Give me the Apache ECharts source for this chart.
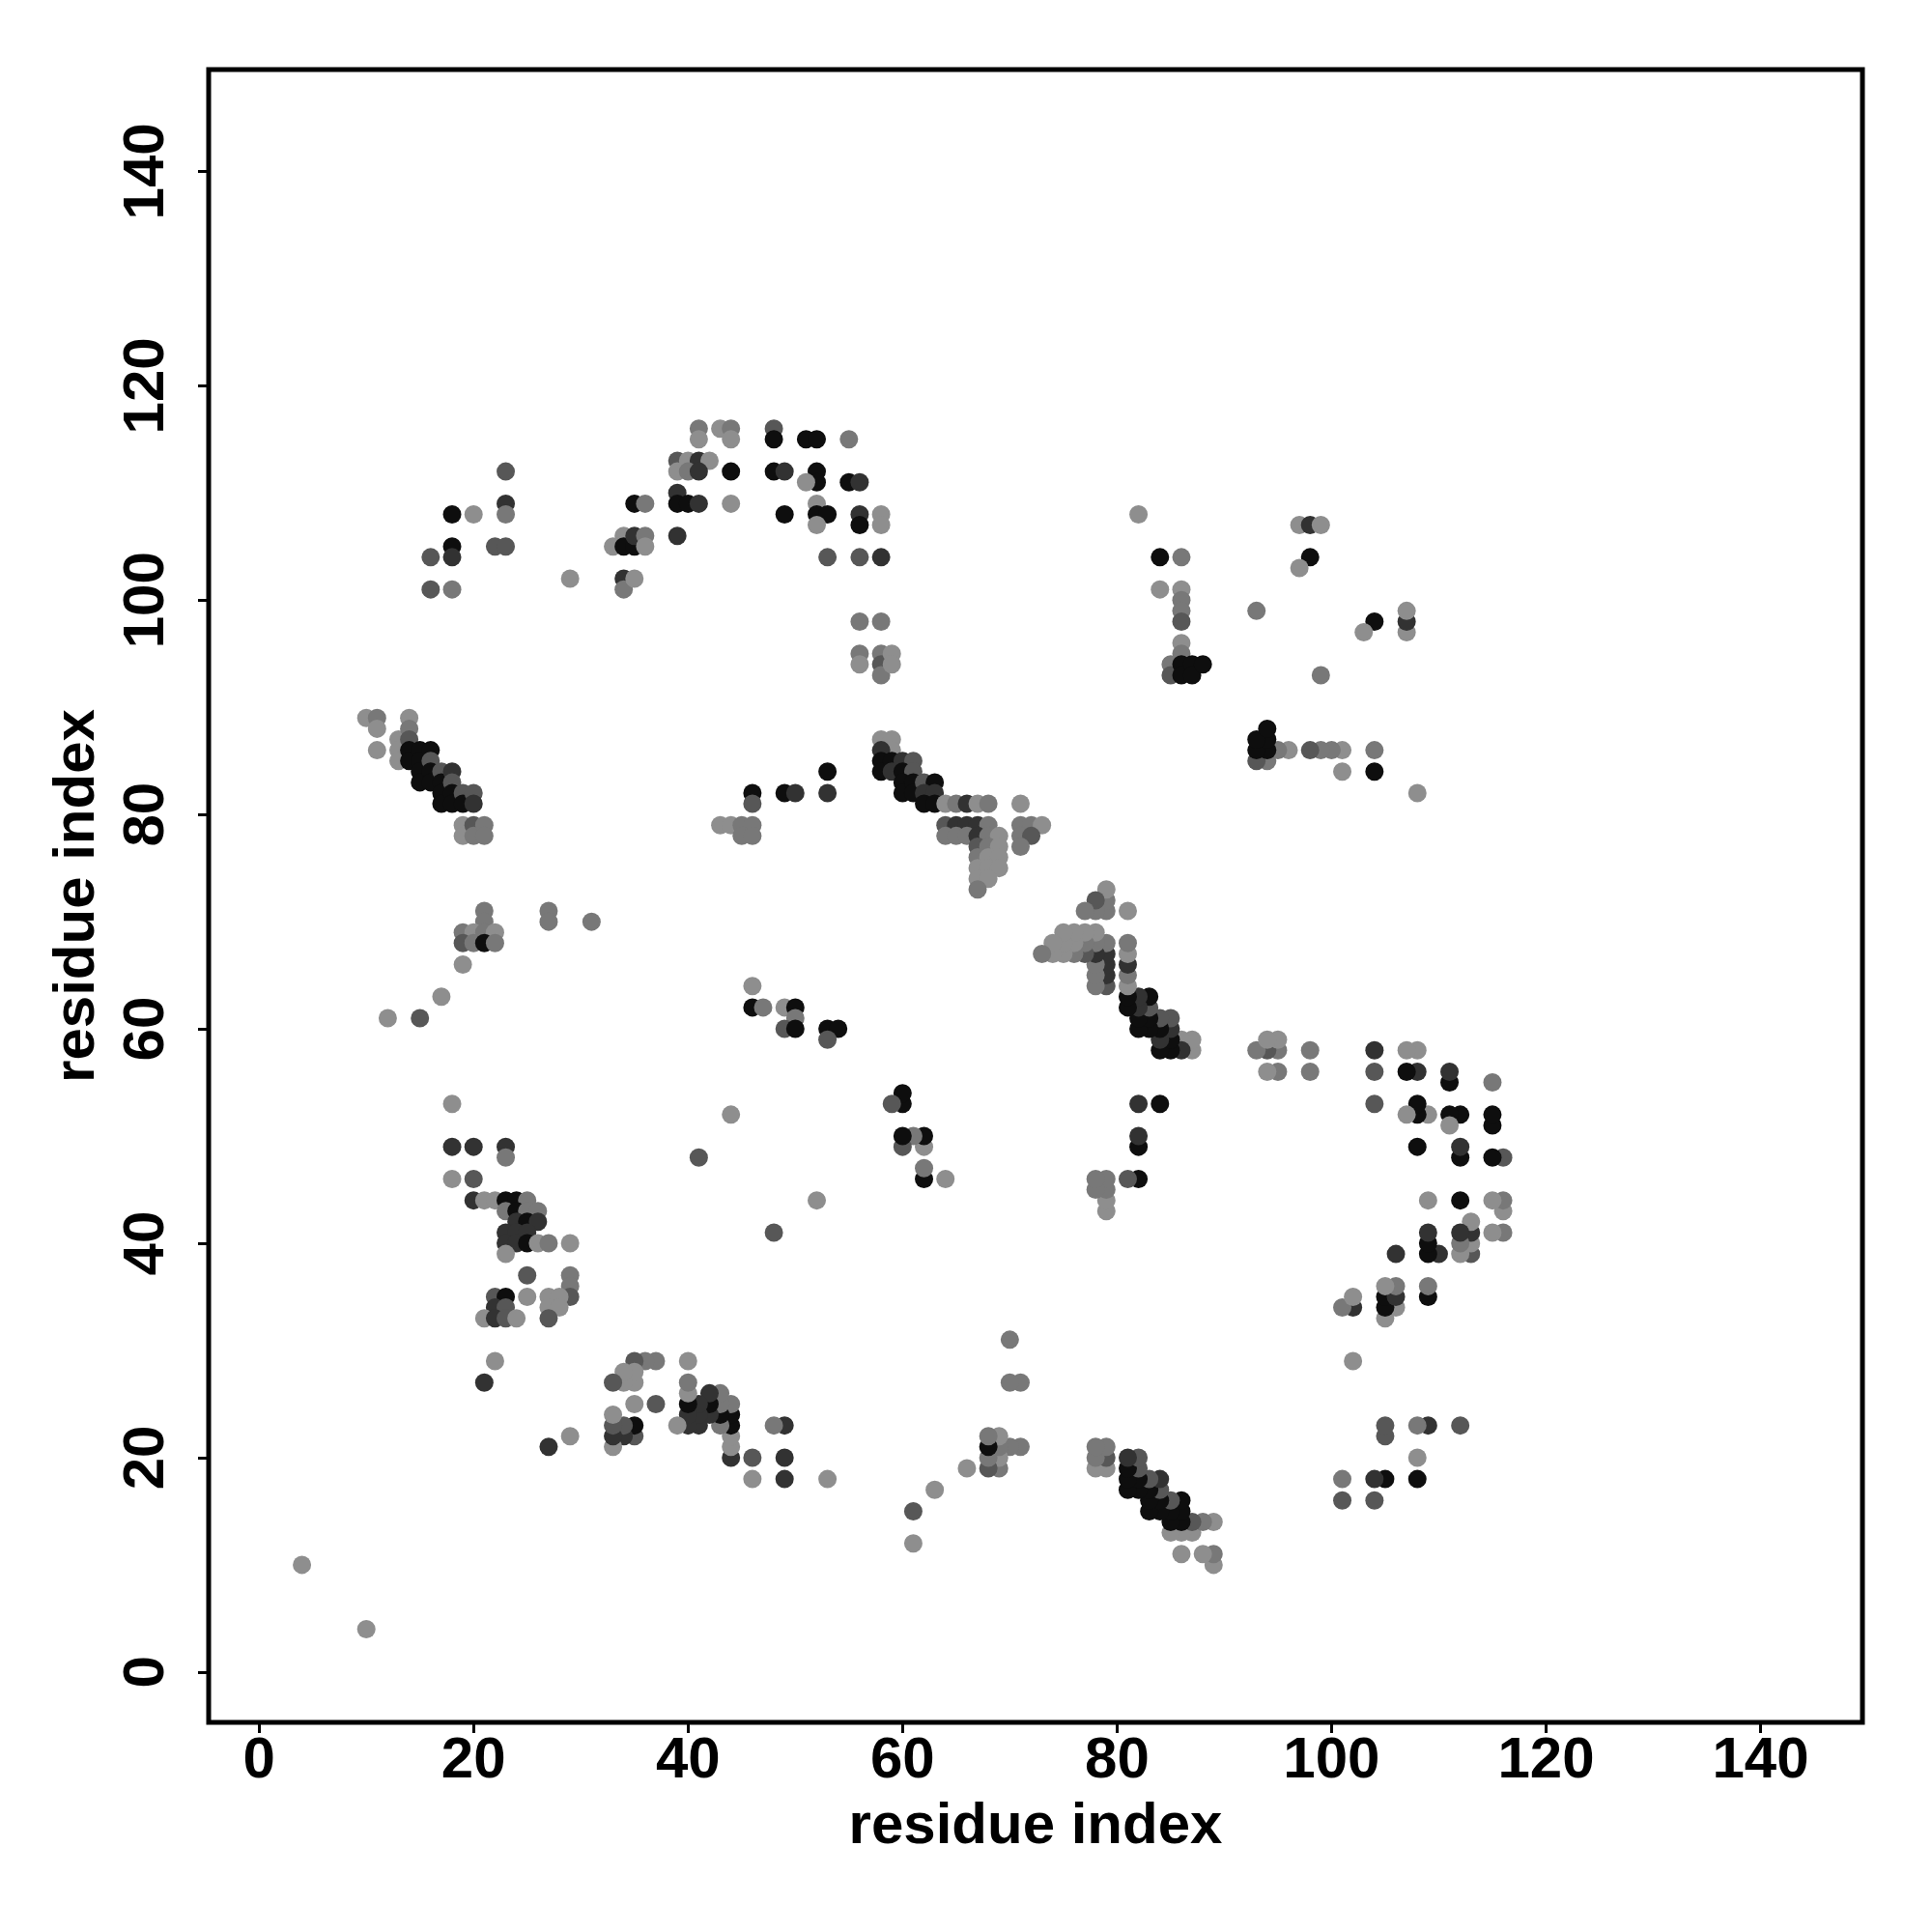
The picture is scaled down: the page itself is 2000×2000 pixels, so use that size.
<!DOCTYPE html>
<html>
<head>
<meta charset="utf-8">
<script src="https://cdn.jsdelivr.net/npm/echarts@6/dist/echarts.min.js"></script>
<style>html,body{margin:0;padding:0;background:#fff}#chart{width:2000px;height:2000px}</style>
</head>
<body>
<div id="chart"></div>
<script>
// Contact pairs (residue i < residue j); the map is symmetric,
// so each pair is also drawn mirrored (j, i). shade: 1 = light grey ... 5 = black
var resI = [4,
 10,11,11,11,13,13,13,14,14,14,14,14,15,15,15,15,16,16,16,16,17,17,17,17,18,18,18,18,19,19,20,20,19,19,20,20,21,21,
 21,21,19,20,21,22,19,20,21,22,19,17,12,15,27,27,31,
 23,18,20,23,23,18,18,16,22,23,16,18,29,
 35,36,34,33,34,35,35,36,36,34,34,35,
 41,41,43,44,44,48,48,51,52,55,39,40,41,42,39,40,41,44,48,49,52,52,51,55,56,39,39,40,41,44,49,52,52,53,52,56,56,58,58,39,53,56,58,56,58,
 53,53,46,46,49,50,43,44,45,46,45,46,46,46,47,49,50,50,49,50,53,54,53,
 56,56,58,58,58,59,59,
 58,59,59,58,58,58,59,59,60,61,60,61,60,60,61,61,62,63,62,63,62,63,
 64,65,66,67,68,71,64,65,66,67,68,71,72,73,64,65,66,67,68,69,71,72,67,68,69,71,67,68,69,67,68,69,67,68,67,
 82,84,86,84,86,86,86,86,86,86,85,85,86,86,87,87,88,93,97,98,99,98,97,
 18,18,20,23,23,18,20,20,21,22,23,24,25,23,24,25,26,24,25,26,23,24,25,23,24,25,26,27,29,23,25,29,29,29,22,23,25,27,28,22,23,27,28,21,22,23,24,27,22,21,
 44,41];
var resJ = [10,
 89,89,88,86,87,86,85,89,88,87,86,85,86,85,84,83,86,85,84,83,84,83,82,81,84,83,82,81,82,81,82,81,79,78,79,78,79,78,
 71,70,69,69,69,69,68,68,68,68,66,63,61,61,71,70,70,
 112,108,108,109,108,105,104,104,105,105,101,101,102,
 109,109,106,105,105,105,106,106,105,102,101,102,
 116,115,116,116,115,116,115,115,115,115,113,113,113,113,112,112,112,112,112,112,112,111,111,111,111,110,109,109,109,109,108,109,108,108,107,108,107,108,107,106,104,104,104,98,98,
 84,82,82,81,82,82,79,79,79,79,78,78,64,62,62,62,62,61,60,60,60,60,59,
 95,94,95,94,93,95,94,
 87,87,86,86,85,84,85,84,85,85,84,84,83,82,83,82,83,83,82,82,81,81,
 81,81,81,81,81,81,79,79,79,79,79,79,79,79,78,78,78,78,78,78,78,78,77,77,77,77,76,76,76,75,75,75,74,74,73,
 108,104,104,101,101,100,99,98,96,95,94,93,94,93,94,93,94,99,107,107,107,104,103,
 53,49,49,49,48,46,46,44,44,44,44,44,44,43,43,43,43,42,42,42,41,41,41,40,40,40,40,40,40,39,37,37,36,35,35,35,35,35,35,34,34,34,34,33,33,33,33,33,29,27,
 52,48];
var shade = [1,
 1,2,1,1,1,1,1,1,2,3,5,5,5,5,5,5,5,3,5,5,3,5,5,5,4,3,5,5,3,5,3,4,1,1,3,2,2,2,
 2,2,2,1,2,1,3,2,5,2,1,1,1,3,2,2,2,
 3,5,1,4,2,5,4,3,3,3,3,2,1,
 5,2,1,1,5,5,4,2,1,4,2,1,
 2,1,1,2,1,3,5,5,5,2,3,1,4,1,1,2,4,5,5,4,5,5,1,5,4,4,5,5,4,1,5,1,5,5,1,4,5,1,1,4,3,3,4,2,2,
 5,4,5,3,5,4,1,1,2,2,2,2,1,5,2,1,5,2,3,5,5,5,3,
 2,1,2,3,2,1,1,
 1,1,1,4,5,5,5,4,4,3,5,3,5,5,5,5,3,5,4,4,5,5,
 1,2,4,1,2,1,3,4,4,4,2,2,2,1,2,2,2,4,2,1,2,3,3,2,1,2,2,1,1,1,1,1,1,1,2,
 1,5,2,1,1,2,2,3,1,2,2,3,5,5,5,5,5,2,1,4,1,5,1,
 1,4,4,4,2,1,3,4,1,1,5,5,2,2,5,2,2,4,5,4,4,4,4,4,4,5,1,2,1,1,3,2,2,3,3,5,1,1,1,4,3,1,1,1,4,3,1,3,1,4,
 1,3];
var tickValues = [0, 20, 40, 60, 80, 100, 120, 140];
var shadeColors = {1: '#8e8e8e', 2: '#787878', 3: '#575757', 4: '#323232', 5: '#0e0e0e'};

var points = [];
for (var k = 0; k < resI.length; k++) {
  points.push([resI[k], resJ[k], shade[k]]);
  points.push([resJ[k], resI[k], shade[k]]);
}

var fontFamily = '"Liberation Sans", Arial, Helvetica, sans-serif';
var chart = echarts.init(document.getElementById('chart'), null, {renderer: 'canvas'});
chart.setOption({
  animation: false,
  backgroundColor: '#ffffff',
  grid: {left: 216, right: 72, top: 72, bottom: 217, show: true, borderWidth: 5, borderColor: '#000', backgroundColor: 'transparent'},
  xAxis: {
    type: 'value', min: -4.7, max: 149.5,
    name: 'residue index', nameLocation: 'middle', nameGap: 78,
    nameTextStyle: {fontFamily: fontFamily, fontWeight: 'bold', fontSize: 60, color: '#000'},
    axisLine: {show: false, onZero: false},
    splitLine: {show: false},
    axisTick: {show: true, inside: false, length: 11, lineStyle: {color: '#000', width: 3}, customValues: tickValues},
    axisLabel: {fontFamily: fontFamily, fontWeight: 'bold', fontSize: 60, color: '#000', margin: 10, customValues: tickValues}
  },
  yAxis: {
    type: 'value', min: -4.7, max: 149.5,
    name: 'residue index', nameLocation: 'middle', nameGap: 106, nameRotate: 90,
    nameTextStyle: {fontFamily: fontFamily, fontWeight: 'bold', fontSize: 60, color: '#000'},
    axisLine: {show: false, onZero: false},
    splitLine: {show: false},
    axisTick: {show: true, inside: false, length: 11, lineStyle: {color: '#000', width: 3}, customValues: tickValues},
    axisLabel: {fontFamily: fontFamily, fontWeight: 'bold', fontSize: 60, color: '#000', margin: 34, rotate: 90, customValues: tickValues}
  },
  series: [{
    type: 'scatter',
    data: points,
    symbol: 'circle',
    symbolSize: 19,
    itemStyle: {
      opacity: 1,
      color: function (p) { return shadeColors[p.data[2]]; }
    }
  }]
});
</script>
</body>
</html>
